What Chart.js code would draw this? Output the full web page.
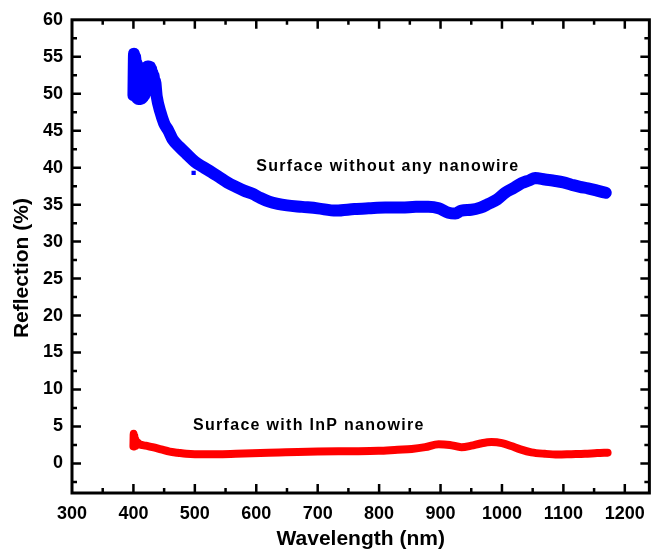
<!DOCTYPE html>
<html>
<head>
<meta charset="utf-8">
<title>Reflection spectra</title>
<script src="https://cdn.jsdelivr.net/npm/chart.js@4/dist/chart.umd.min.js"></script>
<style>
  body { margin: 0; background: #fff; }
</style>
</head>
<body>
<canvas id="myChart" width="655" height="552"></canvas>
<script>
// wavelength (nm) / reflection (%)
var bareX = [400, 401, 402, 403, 404, 405, 406, 407, 408, 409, 410, 411, 412, 413, 414, 415, 416, 417, 418, 419, 420, 421, 422, 423, 424, 425, 426, 427, 428, 429, 430, 431, 432, 433, 434, 435, 438, 444, 450, 457, 464, 475, 486, 500, 513, 527, 540, 553, 567, 580, 593, 607, 621, 635, 650, 675, 700, 730, 760, 783, 810, 837, 860, 880, 897, 913, 924, 934, 950, 965, 978, 992, 1005, 1020, 1032, 1045, 1054, 1070, 1087, 1100, 1113, 1127, 1140, 1155, 1169]
var bareY = [49.8, 55.4, 49.8, 55.0, 49.6, 54.2, 49.4, 53.8, 49.3, 53.6, 49.3, 53.4, 49.3, 53.2, 49.4, 53.0, 49.6, 53.0, 49.8, 53.2, 50.2, 53.5, 50.6, 53.7, 51.0, 53.7, 51.2, 53.6, 51.2, 53.3, 51.0, 52.8, 50.8, 52.4, 50.6, 51.8, 49.6, 47.5, 46, 45, 43.8, 42.8, 41.9, 40.8, 40.1, 39.4, 38.7, 38, 37.4, 36.9, 36.5, 35.9, 35.4, 35.1, 34.9, 34.7, 34.5, 34.2, 34.4, 34.5, 34.6, 34.6, 34.7, 34.7, 34.5, 33.9, 33.8, 34.2, 34.3, 34.6, 35.1, 35.7, 36.6, 37.3, 37.9, 38.3, 38.6, 38.4, 38.2, 38, 37.7, 37.4, 37.2, 36.9, 36.6]

var wireX = [400, 400.5, 401, 401.5, 402, 403, 404, 406, 410, 420, 431, 445, 459, 472, 486, 500, 540, 580, 620, 648, 700, 750, 799, 830, 853, 875, 897, 915, 934, 950, 965, 983, 1000, 1015, 1030, 1048, 1070, 1091, 1113, 1135, 1155, 1172]
var wireY = [2.3, 4.0, 2.4, 3.8, 2.3, 3.3, 2.4, 2.9, 2.6, 2.4, 2.2, 1.9, 1.6, 1.45, 1.3, 1.25, 1.25, 1.35, 1.45, 1.5, 1.6, 1.65, 1.7, 1.85, 1.95, 2.2, 2.6, 2.5, 2.2, 2.4, 2.7, 2.9, 2.75, 2.35, 1.9, 1.5, 1.3, 1.2, 1.25, 1.3, 1.4, 1.45]

var strayX = [498]
var strayY = [39.3]

var xTicks = [300, 400, 500, 600, 700, 800, 900, 1000, 1100, 1200]
var yTicks = [0, 5, 10, 15, 20, 25, 30, 35, 40, 45, 50, 55, 60]

var labelBare = 'Surface without any nanowire'
var labelWire = 'Surface with InP nanowire'

function toPoints(xs, ys) {
    var pts = []
    for (var i = 0; i < xs.length; i++) {
        pts.push({x: xs[i], y: ys[i]})
    }
    return pts
}

var fontFamily = '"Liberation Sans", Arial, sans-serif'

// frame with inward ticks on all four sides, plus the two curve labels
var framePlugin = {
    id: 'frame',
    afterDraw: function(chart) {
        var ctx = chart.ctx
        var a = chart.chartArea
        var xs = chart.scales.x
        var ys = chart.scales.y
        ctx.save()
        ctx.strokeStyle = '#000'
        ctx.lineWidth = 3
        ctx.strokeRect(a.left, a.top, a.right - a.left, a.bottom - a.top)

        ctx.lineWidth = 2.5
        ctx.beginPath()
        for (var v = xs.min; v <= xs.max; v += 50) {
            var px = xs.getPixelForValue(v)
            if (px <= a.left + 1 || px >= a.right - 1) continue
            var len = (xTicks.indexOf(v) >= 0) ? 9 : 5
            ctx.moveTo(px, a.bottom); ctx.lineTo(px, a.bottom - len)
            ctx.moveTo(px, a.top); ctx.lineTo(px, a.top + len)
        }
        for (var w = -2.5; w <= ys.max; w += 2.5) {
            var py = ys.getPixelForValue(w)
            if (py <= a.top + 1 || py >= a.bottom - 1) continue
            var len2 = (yTicks.indexOf(w) >= 0) ? 9 : 5
            ctx.moveTo(a.left, py); ctx.lineTo(a.left + len2, py)
            ctx.moveTo(a.right, py); ctx.lineTo(a.right - len2, py)
        }
        ctx.stroke()

        ctx.fillStyle = '#000'
        ctx.font = 'bold 16px ' + fontFamily
        ctx.letterSpacing = '1.3px'
        ctx.textAlign = 'left'
        ctx.textBaseline = 'middle'
        ctx.fillText(labelBare, xs.getPixelForValue(600), ys.getPixelForValue(40.1))
        ctx.fillText(labelWire, xs.getPixelForValue(497), ys.getPixelForValue(5.1))
        ctx.restore()
    }
}

var myChart = document.getElementById('myChart').getContext('2d')

var reflChart = new Chart(myChart, {
    type: 'line',
    data: {
        datasets: [{
            label: labelBare,
            data: toPoints(bareX, bareY),
            borderColor: '#0000ff',
            backgroundColor: '#0000ff',
            borderWidth: 12,
            borderJoinStyle: 'round',
            borderCapStyle: 'round',
            pointRadius: 0,
            cubicInterpolationMode: 'monotone'
        }, {
            label: 'stray',
            data: toPoints(strayX, strayY),
            showLine: false,
            pointStyle: 'rect',
            pointRadius: 3,
            borderWidth: 0,
            backgroundColor: '#0000ff'
        }, {
            label: labelWire,
            data: toPoints(wireX, wireY),
            borderColor: '#ff0000',
            backgroundColor: '#ff0000',
            borderWidth: 8,
            borderJoinStyle: 'round',
            borderCapStyle: 'round',
            pointRadius: 0,
            cubicInterpolationMode: 'monotone'
        }]
    },
    options: {
        responsive: false,
        animation: false,
        devicePixelRatio: 1,
        layout: { padding: { top: 19, right: 3, left: 0, bottom: 0 } },
        plugins: {
            legend: { display: false },
            tooltip: { enabled: false }
        },
        scales: {
            x: {
                type: 'linear',
                min: 300,
                max: 1240,
                grid: { display: false, drawTicks: false },
                border: { display: false },
                ticks: {
                    stepSize: 100,
                    includeBounds: false,
                    padding: 10,
                    color: '#000',
                    maxRotation: 0,
                    font: { family: fontFamily, size: 18, weight: 'bold' },
                    callback: function(value) { return String(value) }
                },
                title: {
                    display: true,
                    text: 'Wavelength (nm)',
                    color: '#000',
                    padding: { top: 0, bottom: 0 },
                    font: { family: fontFamily, size: 21, weight: 'bold' }
                },
                afterFit: function(scale) { scale.height = 59 }
            },
            y: {
                min: -4,
                max: 60,
                grid: { display: false, drawTicks: false },
                border: { display: false },
                ticks: {
                    stepSize: 5,
                    includeBounds: false,
                    padding: 9,
                    color: '#000',
                    font: { family: fontFamily, size: 18, weight: 'bold' },
                    callback: function(value) { return String(value) }
                },
                title: {
                    display: true,
                    text: 'Reflection (%)    ',
                    color: '#000',
                    padding: { top: 10, bottom: 0 },
                    font: { family: fontFamily, size: 21, weight: 'bold' }
                },
                afterFit: function(scale) { scale.width = 72 }
            }
        }
    },
    plugins: [framePlugin]
})
</script>
</body>
</html>
